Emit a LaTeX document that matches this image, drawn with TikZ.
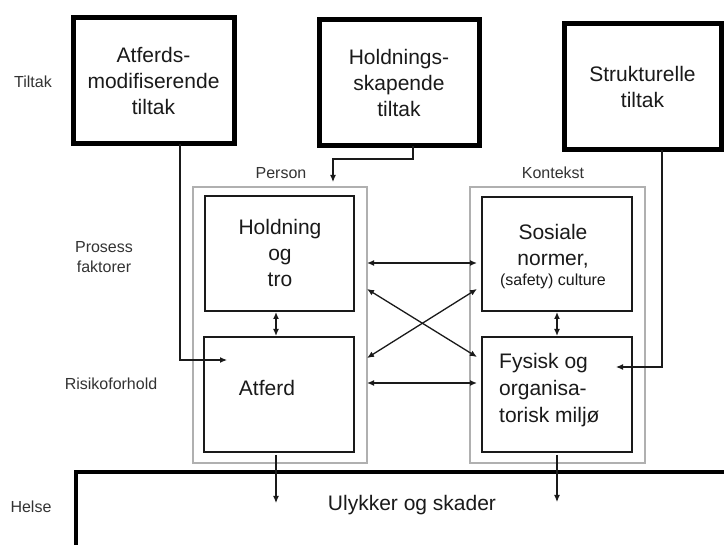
\documentclass[tikz,border=0pt]{standalone}
\usepackage{fontspec}
\setmainfont{Liberation Sans}
\usetikzlibrary{arrows.meta}
\definecolor{txt}{HTML}{1A1A1A}
\definecolor{sidetxt}{HTML}{333333}
\definecolor{frame}{HTML}{B0B0B0}
\begin{document}
\begin{tikzpicture}[x=1pt,y=-1pt,
  tiltakbox/.style={draw=black,line width=5pt,inner sep=0pt,outer sep=0pt,
    align=center,text=txt,font=\fontsize{21}{26}\selectfont},
  innerbox/.style={draw=txt,line width=2pt,inner sep=0pt,outer sep=0pt},
  framebox/.style={draw=frame,line width=2pt,inner sep=0pt,outer sep=0pt},
  maintext/.style={align=center,text=txt,inner sep=0pt,font=\fontsize{21}{26}\selectfont},
  sidetext/.style={align=center,text=sidetxt,inner sep=0pt,font=\fontsize{16}{20}\selectfont},
  conn/.style={draw=txt,line width=1.2pt,-{Latex[length=7pt,width=6pt]}},
  dconn/.style={draw=txt,line width=1.3pt,{Latex[length=7pt,width=6pt]}-{Latex[length=7pt,width=6pt]}}
]
\useasboundingbox (0,0) rectangle (724,545);
\fill[white] (0,0) rectangle (724,545);
\clip (0,0) rectangle (724,545);

% side labels
\node[sidetext] (lTiltak) at (33,82) {Tiltak};
\node[sidetext] (lProsess) at (104,257) {Prosess\\faktorer};
\node[sidetext] (lRisiko) at (111,384) {Risikoforhold};
\node[sidetext] (lHelse) at (31,507) {Helse};
\node[sidetext] (lPerson) at (281,173) {Person};
\node[sidetext] (lKontekst) at (553,173) {Kontekst};

% top boxes
\node[tiltakbox,minimum width=161pt,minimum height=126pt] (b1) at (153.5,81)
  {Atferds-\\modifiserende\\tiltak};
\node[tiltakbox,minimum width=160pt,minimum height=126pt] (b2) at (399,83)
  {Holdnings-\\skapende\\tiltak};
\node[tiltakbox,minimum width=157pt,minimum height=126pt] (b3) at (642.5,87)
  {Strukturelle\\tiltak};

% grey frames
\node[framebox,minimum width=174pt,minimum height=276pt] (po) at (280,325) {};
\node[framebox,minimum width=175pt,minimum height=276pt] (ko) at (557.5,325) {};

% inner boxes
\node[innerbox,minimum width=149pt,minimum height=115pt] (hb) at (279.5,253.5) {};
\node[innerbox,minimum width=150pt,minimum height=115pt] (ab) at (278.5,394.5) {};
\node[innerbox,minimum width=150pt,minimum height=114pt] (sb) at (557,254) {};
\node[innerbox,minimum width=150pt,minimum height=115pt] (fb) at (557,394.5) {};

\node[maintext] (tHold) at (280,253) {Holdning\\og\\tro};
\node[maintext] (tAtf) at (267,388) {Atferd};
\node[maintext] (tSos) at (553,246) {Sosiale\\normer,};
\node[sidetext,text=txt] (tSaf) at (553,281) {(safety) culture};
\node[maintext,align=left,anchor=west,font=\fontsize{21}{27}\selectfont] (tFys) at (499,390)
  {Fysisk og\\organisa-\\torisk miljø};

% bottom box
\node[draw=black,line width=4pt,inner sep=0pt,outer sep=0pt,
  minimum width=664pt,minimum height=128pt] (ub) at (408,536) {};
\node[maintext] (tUly) at (412,505) {Ulykker og skader};

% free ends
\coordinate (e1) at (227,360);
\coordinate (e2) at (333,182);
\coordinate (e3) at (616,367);
\coordinate (u1) at (276,503);
\coordinate (u2) at (557,502);
\coordinate (h1) at (477,263);
\coordinate (h2) at (477,383);
\coordinate (x1a) at (367,289);
\coordinate (x1b) at (477,357);
\coordinate (x2a) at (367,358);
\coordinate (x2b) at (477,289);

% connectors from measures
\draw[conn] ([xshift=26.5pt]b1.south) |- (e1);
\draw[conn] ([xshift=14pt]b2.south) -- ++(0,13) -| (e2);
\draw[conn] ([xshift=19.5pt]b3.south) |- (e3);

% horizontal and crossing links
\draw[dconn] (po.east |- h1) -- (h1);
\draw[dconn] (po.east |- h2) -- (h2);
\draw[dconn] (x1a) -- (x1b);
\draw[dconn] (x2a) -- (x2b);

% vertical links
\draw[dconn,shorten <=1pt,shorten >=1pt] (hb.south -| u1) -- (ab.north -| u1);
\draw[dconn,shorten <=1pt,shorten >=1pt] (sb.south) -- (fb.north);

% to outcomes
\draw[conn] (ab.south -| u1) ++(0,3) -- (u1);
\draw[conn] (fb.south -| u2) ++(0,3) -- (u2);
\end{tikzpicture}
\end{document}
